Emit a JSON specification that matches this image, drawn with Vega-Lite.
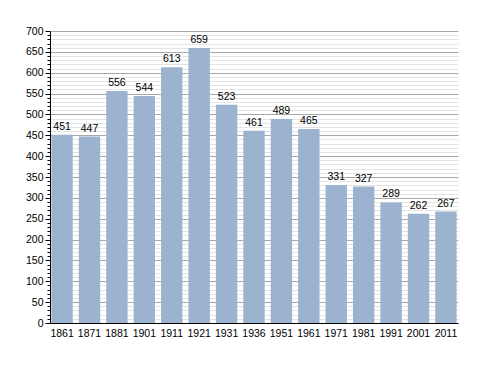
{
  "$schema": "https://vega.github.io/schema/vega-lite/v6.json",
  "autosize": "none",
  "width": 408,
  "height": 292,
  "padding": {"left": 50, "top": 31, "right": 30, "bottom": 50},
  "background": "white",
  "config": {
    "view": {"stroke": null},
    "font": "Liberation Sans"
  },
  "data": {
    "values": [
      {"year": "1861", "pop": 451},
      {"year": "1871", "pop": 447},
      {"year": "1881", "pop": 556},
      {"year": "1901", "pop": 544},
      {"year": "1911", "pop": 613},
      {"year": "1921", "pop": 659},
      {"year": "1931", "pop": 523},
      {"year": "1936", "pop": 461},
      {"year": "1951", "pop": 489},
      {"year": "1961", "pop": 465},
      {"year": "1971", "pop": 331},
      {"year": "1981", "pop": 327},
      {"year": "1991", "pop": 289},
      {"year": "2001", "pop": 262},
      {"year": "2011", "pop": 267}
    ]
  },
  "encoding": {
    "x": {
      "field": "year", "type": "ordinal", "sort": null,
      "scale": {"paddingInner": 0.22, "paddingOuter": 0.05},
      "axis": {"title": null, "labelAngle": 0, "ticks": false, "domainColor": "black", "labelColor": "black", "labelFontSize": 10.5, "labelPadding": 5, "grid": false}
    },
    "y": {
      "field": "pop", "type": "quantitative",
      "scale": {"domain": [0, 700], "nice": false},
      "axis": {
        "title": null,
        "values": [0,10,20,30,40,50,60,70,80,90,100,110,120,130,140,150,160,170,180,190,200,210,220,230,240,250,260,270,280,290,300,310,320,330,340,350,360,370,380,390,400,410,420,430,440,450,460,470,480,490,500,510,520,530,540,550,560,570,580,590,600,610,620,630,640,650,660,670,680,690,700],
        "labelExpr": "datum.value % 50 === 0 ? datum.label : ''",
        "grid": true,
        "gridColor": {"condition": {"test": "datum.value % 50 === 0", "value": "#a8a8a8"}, "value": "#e4e4e4"},
        "tickSize": {"condition": {"test": "datum.value % 50 === 0", "value": 5}, "value": 3},
        "tickColor": "black",
        "domainColor": "black",
        "labelColor": "black",
        "labelFontSize": 10.5,
        "labelPadding": 2,
        "labelOverlap": false
      }
    }
  },
  "layer": [
    {"mark": {"type": "bar", "color": "#9bb3cf"}},
    {
      "mark": {"type": "text", "baseline": "bottom", "dy": -3, "fontSize": 10.5, "color": "black"},
      "encoding": {"text": {"field": "pop", "type": "quantitative"}}
    }
  ]
}
